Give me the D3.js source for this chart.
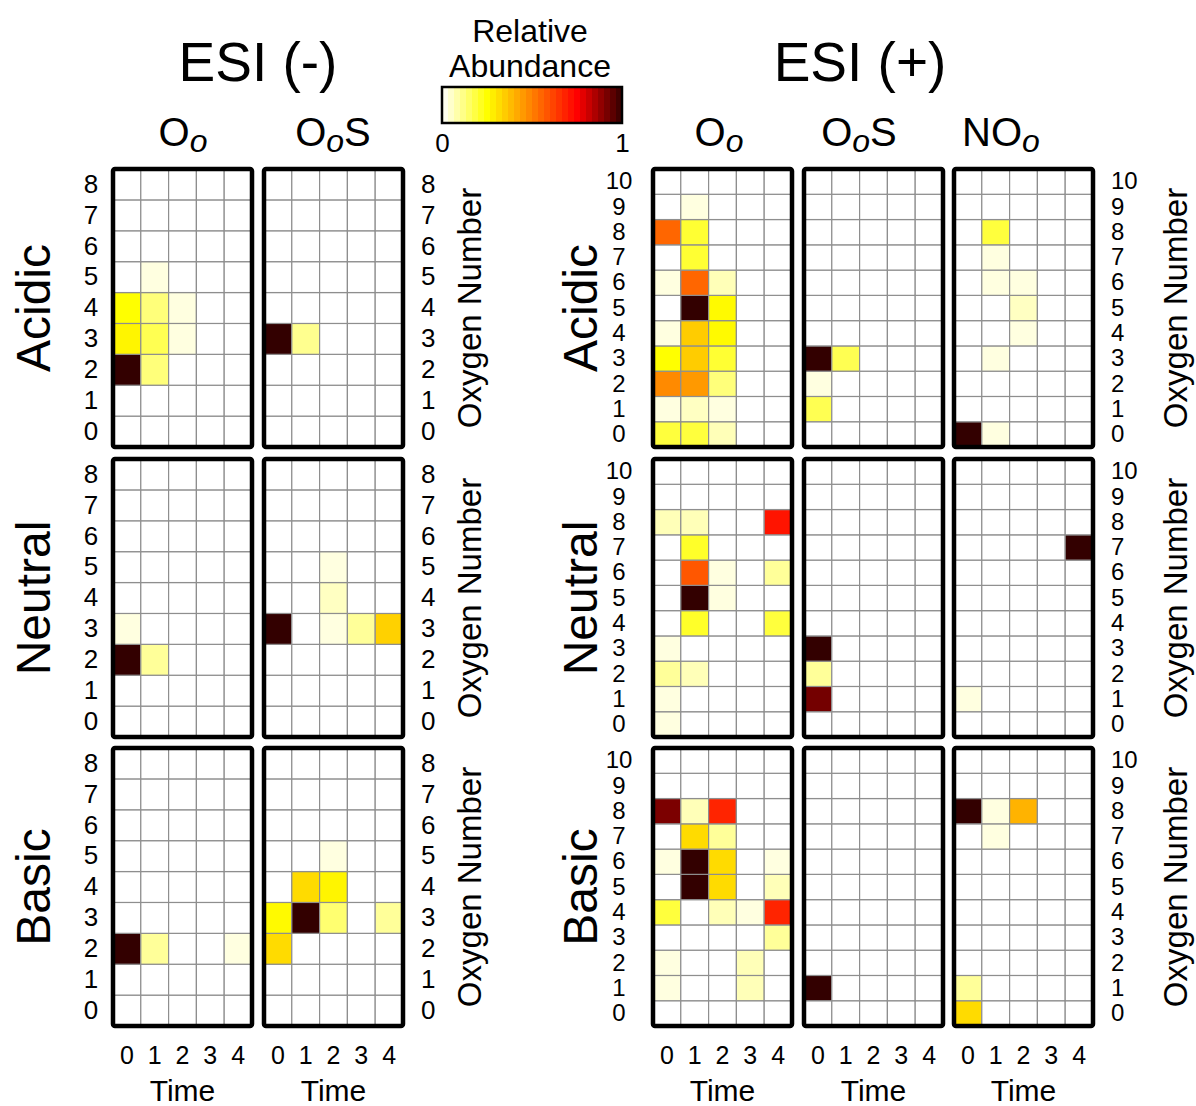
<!DOCTYPE html>
<html>
<head>
<meta charset="utf-8">
<script src="https://cdn.jsdelivr.net/npm/d3@7"></script>
<style>
  body { margin: 0; background: #fff; }
  text { font-family: "Liberation Sans", Arial, sans-serif; fill: #000; }
</style>
</head>
<body>
<script>
// tick labels
var times = [0, 1, 2, 3, 4];
var negOxygen = [0, 1, 2, 3, 4, 5, 6, 7, 8];
var posOxygen = [0, 1, 2, 3, 4, 5, 6, 7, 8, 9, 10];
var rowNames = ["Acidic", "Neutral", "Basic"];

// each panel: one array per time point, values indexed by oxygen number
var negOoAcidic = [
  [0, 0, 1, 0.27, 0.25, 0, 0, 0, 0],
  [0, 0, 0.13, 0.17, 0.13, 0.03, 0, 0, 0],
  [0, 0, 0, 0.03, 0.03, 0, 0, 0, 0],
  [0, 0, 0, 0, 0, 0, 0, 0, 0],
  [0, 0, 0, 0, 0, 0, 0, 0, 0]
];
var negOoSAcidic = [
  [0, 0, 0, 1, 0, 0, 0, 0, 0],
  [0, 0, 0, 0.11, 0, 0, 0, 0, 0],
  [0, 0, 0, 0, 0, 0, 0, 0, 0],
  [0, 0, 0, 0, 0, 0, 0, 0, 0],
  [0, 0, 0, 0, 0, 0, 0, 0, 0]
];
var negOoNeutral = [
  [0, 0, 1, 0.03, 0, 0, 0, 0, 0],
  [0, 0, 0.1, 0, 0, 0, 0, 0, 0],
  [0, 0, 0, 0, 0, 0, 0, 0, 0],
  [0, 0, 0, 0, 0, 0, 0, 0, 0],
  [0, 0, 0, 0, 0, 0, 0, 0, 0]
];
var negOoSNeutral = [
  [0, 0, 0, 1, 0, 0, 0, 0, 0],
  [0, 0, 0, 0, 0, 0, 0, 0, 0],
  [0, 0, 0, 0.03, 0.06, 0.03, 0, 0, 0],
  [0, 0, 0, 0.1, 0, 0, 0, 0, 0],
  [0, 0, 0, 0.34, 0, 0, 0, 0, 0]
];
var negOoBasic = [
  [0, 0, 1, 0, 0, 0, 0, 0, 0],
  [0, 0, 0.1, 0, 0, 0, 0, 0, 0],
  [0, 0, 0, 0, 0, 0, 0, 0, 0],
  [0, 0, 0, 0, 0, 0, 0, 0, 0],
  [0, 0, 0.03, 0, 0, 0, 0, 0, 0]
];
var negOoSBasic = [
  [0, 0, 0.32, 0.26, 0, 0, 0, 0, 0],
  [0, 0, 0, 1, 0.32, 0, 0, 0, 0],
  [0, 0, 0, 0.14, 0.27, 0.03, 0, 0, 0],
  [0, 0, 0, 0, 0, 0, 0, 0, 0],
  [0, 0, 0, 0.1, 0, 0, 0, 0, 0]
];

var posOoAcidic = [
  [0.19, 0.03, 0.48, 0.25, 0.03, 0, 0.03, 0, 0.55, 0, 0],
  [0.19, 0.06, 0.45, 0.35, 0.35, 1, 0.55, 0.2, 0.2, 0.03, 0],
  [0.07, 0.03, 0.13, 0.2, 0.26, 0.26, 0.07, 0, 0, 0, 0],
  [0, 0, 0, 0, 0, 0, 0, 0, 0, 0, 0],
  [0, 0, 0, 0, 0, 0, 0, 0, 0, 0, 0]
];
var posOoSAcidic = [
  [0, 0.17, 0.03, 1, 0, 0, 0, 0, 0, 0, 0],
  [0, 0, 0, 0.17, 0, 0, 0, 0, 0, 0, 0],
  [0, 0, 0, 0, 0, 0, 0, 0, 0, 0, 0],
  [0, 0, 0, 0, 0, 0, 0, 0, 0, 0, 0],
  [0, 0, 0, 0, 0, 0, 0, 0, 0, 0, 0]
];
var posNOoAcidic = [
  [1, 0, 0, 0, 0, 0, 0, 0, 0, 0, 0],
  [0.03, 0, 0, 0.03, 0, 0, 0.03, 0.03, 0.19, 0, 0],
  [0, 0, 0, 0, 0.03, 0.06, 0.03, 0, 0, 0, 0],
  [0, 0, 0, 0, 0, 0, 0, 0, 0, 0, 0],
  [0, 0, 0, 0, 0, 0, 0, 0, 0, 0, 0]
];
var posOoNeutral = [
  [0.03, 0.03, 0.1, 0.03, 0, 0, 0, 0, 0.07, 0, 0],
  [0, 0, 0.07, 0, 0.21, 1, 0.58, 0.21, 0.07, 0, 0],
  [0, 0, 0, 0, 0, 0.03, 0.03, 0, 0, 0, 0],
  [0, 0, 0, 0, 0, 0, 0, 0, 0, 0, 0],
  [0, 0, 0, 0, 0.19, 0, 0.1, 0, 0.71, 0, 0]
];
var posOoSNeutral = [
  [0, 0.92, 0.1, 1, 0, 0, 0, 0, 0, 0, 0],
  [0, 0, 0, 0, 0, 0, 0, 0, 0, 0, 0],
  [0, 0, 0, 0, 0, 0, 0, 0, 0, 0, 0],
  [0, 0, 0, 0, 0, 0, 0, 0, 0, 0, 0],
  [0, 0, 0, 0, 0, 0, 0, 0, 0, 0, 0]
];
var posNOoNeutral = [
  [0, 0.03, 0, 0, 0, 0, 0, 0, 0, 0, 0],
  [0, 0, 0, 0, 0, 0, 0, 0, 0, 0, 0],
  [0, 0, 0, 0, 0, 0, 0, 0, 0, 0, 0],
  [0, 0, 0, 0, 0, 0, 0, 0, 0, 0, 0],
  [0, 0, 0, 0, 0, 0, 0, 1, 0, 0, 0]
];
var posOoBasic = [
  [0, 0.03, 0.03, 0, 0.19, 0, 0.03, 0, 0.91, 0, 0],
  [0, 0, 0, 0, 0, 1, 1, 0.32, 0.07, 0, 0],
  [0, 0, 0, 0, 0.07, 0.32, 0.32, 0.1, 0.68, 0, 0],
  [0, 0.07, 0.07, 0, 0.03, 0, 0, 0, 0, 0, 0],
  [0, 0, 0, 0.1, 0.68, 0.07, 0.03, 0, 0, 0, 0]
];
var posOoSBasic = [
  [0, 1, 0, 0, 0, 0, 0, 0, 0, 0, 0],
  [0, 0, 0, 0, 0, 0, 0, 0, 0, 0, 0],
  [0, 0, 0, 0, 0, 0, 0, 0, 0, 0, 0],
  [0, 0, 0, 0, 0, 0, 0, 0, 0, 0, 0],
  [0, 0, 0, 0, 0, 0, 0, 0, 0, 0, 0]
];
var posNOoBasic = [
  [0.32, 0.1, 0, 0, 0, 0, 0, 0, 1, 0, 0],
  [0, 0, 0, 0, 0, 0, 0, 0.03, 0.03, 0, 0],
  [0, 0, 0, 0, 0, 0, 0, 0, 0.4, 0, 0],
  [0, 0, 0, 0, 0, 0, 0, 0, 0, 0, 0],
  [0, 0, 0, 0, 0, 0, 0, 0, 0, 0, 0]
];

var W = 1196, H = 1106;
var panelW = 139, panelH = 278;
var rowTops = [169, 459, 748];

var color = d3.scaleLinear()
  .domain([0, 0.25, 0.5, 0.75, 1])
  .range(["#ffffff", "#ffff00", "#ff8000", "#ff0000", "#330000"])
  .clamp(true);

var svg = d3.select("body").append("svg")
  .attr("width", W)
  .attr("height", H);

var groups = [
  {
    title: "ESI (-)", titleX: 258, oxygen: negOxygen, tickSize: 26,
    leftTickX: -22, rowLabelX: 50, numberLabelX: 481,
    panels: [
      { x0: 113, label: ["O", "o", ""], labelX: 183, data: [negOoAcidic, negOoNeutral, negOoBasic] },
      { x0: 264, label: ["O", "o", "S"], labelX: 333, data: [negOoSAcidic, negOoSNeutral, negOoSBasic] }
    ]
  },
  {
    title: "ESI (+)", titleX: 860, oxygen: posOxygen, tickSize: 24,
    leftTickX: -34, rowLabelX: 597, numberLabelX: 1187,
    panels: [
      { x0: 653, label: ["O", "o", ""], labelX: 719, data: [posOoAcidic, posOoNeutral, posOoBasic] },
      { x0: 804, label: ["O", "o", "S"], labelX: 859, data: [posOoSAcidic, posOoSNeutral, posOoSBasic] },
      { x0: 954, label: ["NO", "o", ""], labelX: 1001, data: [posNOoAcidic, posNOoNeutral, posNOoBasic] }
    ]
  }
];

function styleAxis(g, size) {
  g.attr("font-size", size)
    .attr("font-family", "'Liberation Sans', Arial, sans-serif");
  g.select(".domain").remove();
  g.selectAll("text").attr("fill", "#000");
}

groups.forEach(function(grp) {
  svg.append("text")
    .attr("x", grp.titleX)
    .attr("y", 81)
    .attr("text-anchor", "middle")
    .attr("font-size", 55)
    .text(grp.title);

  var nP = grp.panels.length;

  grp.panels.forEach(function(p, pi) {
    // column label, e.g. O_o S
    var lab = svg.append("text")
      .attr("x", p.labelX)
      .attr("y", 146)
      .attr("text-anchor", "middle")
      .attr("font-size", 40);
    lab.append("tspan").text(p.label[0]);
    lab.append("tspan").attr("font-style", "italic").attr("font-size", 32).attr("dy", 6).text(p.label[1]);
    if (p.label[2]) lab.append("tspan").attr("dy", -6).text(p.label[2]);

    var x = d3.scaleBand().domain(times).range([p.x0, p.x0 + panelW]);

    p.data.forEach(function(mat, ri) {
      var top = rowTops[ri];
      var y = d3.scaleBand().domain(grp.oxygen.slice().reverse()).range([top, top + panelH]);

      var cells = [];
      mat.forEach(function(col, t) {
        col.forEach(function(v, o) { cells.push({ t: times[t], o: grp.oxygen[o], v: v }); });
      });

      var g = svg.append("g");
      g.selectAll("rect.cell")
        .data(cells)
        .join("rect")
        .attr("class", "cell")
        .attr("x", d => x(d.t))
        .attr("y", d => y(d.o))
        .attr("width", x.bandwidth())
        .attr("height", y.bandwidth())
        .attr("fill", d => color(d.v))
        .attr("stroke", "#8e8e8e")
        .attr("stroke-width", 1.2);

      g.append("rect")
        .attr("x", p.x0)
        .attr("y", top)
        .attr("width", panelW)
        .attr("height", panelH)
        .attr("rx", 2)
        .attr("fill", "none")
        .attr("stroke", "#000")
        .attr("stroke-width", 4.5);

      if (pi === 0) {
        var la = svg.append("g")
          .attr("transform", "translate(" + p.x0 + ",0)")
          .call(d3.axisLeft(y).tickSize(0));
        styleAxis(la, grp.tickSize);
        la.selectAll("text").attr("x", grp.leftTickX).attr("text-anchor", "middle");

        svg.append("text")
          .attr("transform", "translate(" + grp.rowLabelX + "," + (top + panelH / 2) + ") rotate(-90)")
          .attr("text-anchor", "middle")
          .attr("font-size", 48)
          .text(rowNames[ri]);
      }
      if (pi === nP - 1) {
        var ra = svg.append("g")
          .attr("transform", "translate(" + (p.x0 + panelW) + ",0)")
          .call(d3.axisRight(y).tickSize(0).tickPadding(18));
        styleAxis(ra, grp.tickSize);

        svg.append("text")
          .attr("transform", "translate(" + grp.numberLabelX + "," + (top + panelH / 2) + ") rotate(-90)")
          .attr("text-anchor", "middle")
          .attr("font-size", 33)
          .text("Oxygen Number");
      }
      if (ri === 2) {
        var ba = svg.append("g")
          .attr("transform", "translate(0," + (top + panelH) + ")")
          .call(d3.axisBottom(x).tickSize(0).tickPadding(20));
        styleAxis(ba, 25);

        svg.append("text")
          .attr("x", p.x0 + panelW / 2)
          .attr("y", 1101)
          .attr("text-anchor", "middle")
          .attr("font-size", 30)
          .text("Time");
      }
    });
  });
});

// colour legend
var legX = d3.scaleLinear().domain([0, 1]).range([442, 622]);
var nSteps = 30;
var steps = d3.range(nSteps).map(i => i / nSteps);
var leg = svg.append("g");
leg.selectAll("rect")
  .data(steps)
  .join("rect")
  .attr("x", d => legX(d))
  .attr("y", 87)
  .attr("width", legX(1 / nSteps) - legX(0) + 0.5)
  .attr("height", 36)
  .attr("fill", d => color(d + 0.5 / nSteps));
leg.append("rect")
  .attr("x", legX(0))
  .attr("y", 87)
  .attr("width", legX(1) - legX(0))
  .attr("height", 36)
  .attr("fill", "none")
  .attr("stroke", "#000")
  .attr("stroke-width", 2.5);
var lax = svg.append("g")
  .attr("transform", "translate(0,123)")
  .call(d3.axisBottom(legX).tickValues([0, 1]).tickFormat(d3.format("d")).tickSize(0).tickPadding(11));
styleAxis(lax, 26);

svg.append("text").attr("x", 530).attr("y", 42).attr("text-anchor", "middle").attr("font-size", 32).text("Relative");
svg.append("text").attr("x", 530).attr("y", 77).attr("text-anchor", "middle").attr("font-size", 32).text("Abundance");
</script>
</body>
</html>
